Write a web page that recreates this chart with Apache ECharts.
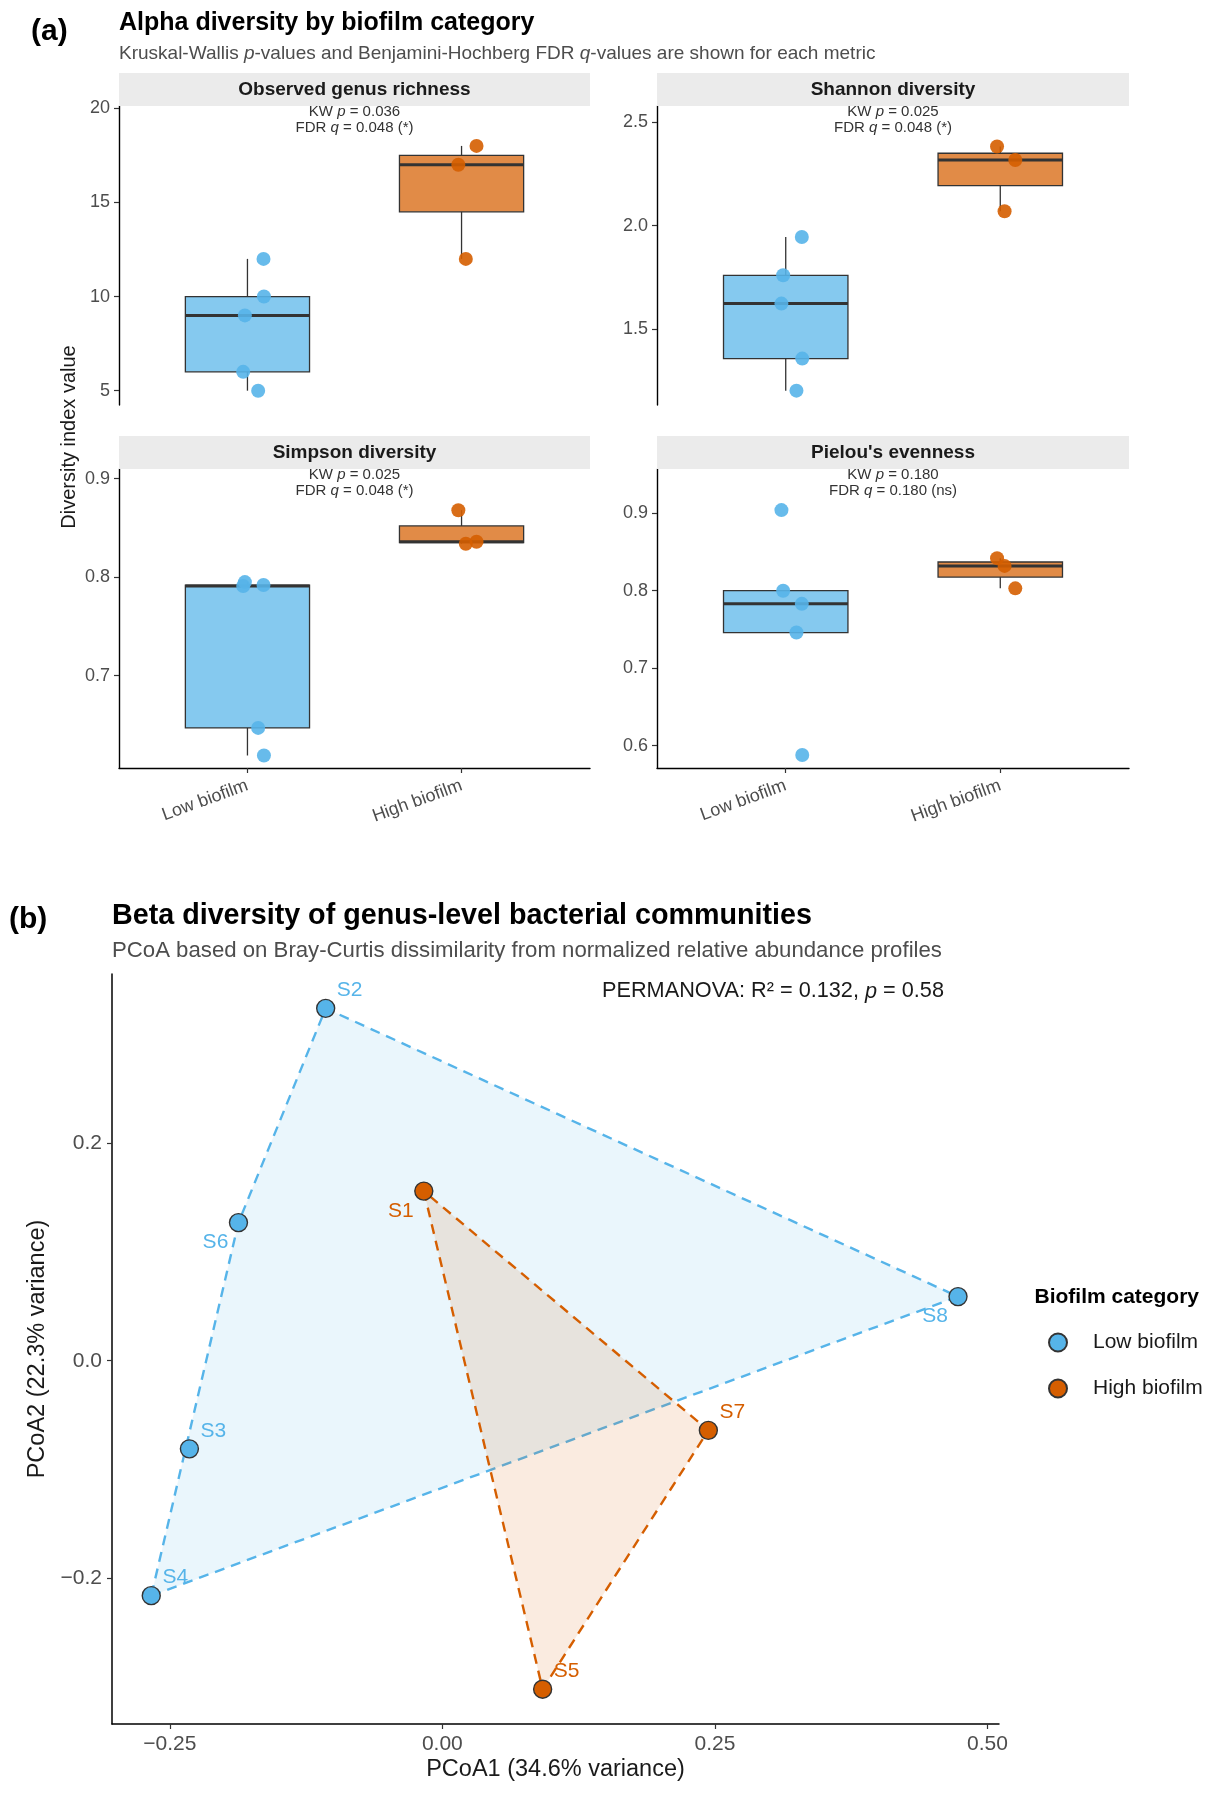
<!DOCTYPE html>
<html>
<head>
<meta charset="utf-8">
<script src="https://cdn.jsdelivr.net/npm/echarts@6/dist/echarts.min.js"></script>
<style>
html,body{margin:0;padding:0;background:#fff;}
#c{width:1211px;height:1793px;}
</style>
</head>
<body>
<div id="c"></div>
<script>
// ---------------- DATA ----------------
const groups = ['Low biofilm', 'High biofilm'];
const metrics = ['Observed genus richness', 'Shannon diversity', 'Simpson diversity', "Pielou's evenness"];
const kwP = ['0.036', '0.025', '0.025', '0.180'];
const fdrQ = ['0.048 (*)', '0.048 (*)', '0.048 (*)', '0.180 (ns)'];

// per-sample horizontal jitter (category units)
const lowJitter = [0.075, 0.077, -0.012, -0.02, 0.05];
const highJitter = [0.07, -0.015, 0.02];

const richnessLow = [12, 10, 9, 6, 5];
const richnessHigh = [18, 17, 12];
const shannonLow = [1.945, 1.357, 1.760, 1.623, 1.202];
const shannonHigh = [2.318, 2.383, 2.070];
const simpsonLow = [0.792, 0.619, 0.795, 0.791, 0.647];
const simpsonHigh = [0.836, 0.868, 0.834];
const pielouLow = [0.783, 0.588, 0.800, 0.904, 0.746];
const pielouHigh = [0.803, 0.842, 0.832];

const yTicksA = [[5, 10, 15, 20], [1.5, 2.0, 2.5], [0.7, 0.8, 0.9], [0.6, 0.7, 0.8, 0.9]];
const yDecimalsA = [0, 1, 1, 1];

// PCoA
const samples = ['S1', 'S2', 'S3', 'S4', 'S5', 'S6', 'S7', 'S8'];
const sampleGroup = ['High biofilm', 'Low biofilm', 'Low biofilm', 'Low biofilm', 'High biofilm', 'Low biofilm', 'High biofilm', 'Low biofilm'];
const pcoa1 = [-0.017, -0.107, -0.232, -0.267, 0.092, -0.187, 0.244, 0.473];
const pcoa2 = [0.156, 0.324, -0.081, -0.216, -0.302, 0.127, -0.064, 0.059];
const xTicksB = [-0.25, 0, 0.25, 0.5];
const yTicksB = [-0.2, 0, 0.2];

// ---------------- STYLE ----------------
const FONT = "'Liberation Sans', Arial, sans-serif";
const COL = {'Low biofilm': '#56B4E9', 'High biofilm': '#D55E00'};
const BOXFILL = {'Low biofilm': 'rgba(86,180,233,0.72)', 'High biofilm': 'rgba(213,94,0,0.72)'};
const HULLFILL = {'Low biofilm': 'rgba(86,180,233,0.12)', 'High biofilm': 'rgba(213,94,0,0.12)'};
const BOX_W = 0.58;
const gridsA = [
  {left: 119, top: 106, width: 471, height: 299},
  {left: 657, top: 106, width: 472, height: 299},
  {left: 119, top: 469, width: 471, height: 299},
  {left: 657, top: 469, width: 472, height: 299}
];
const yRangeA = [[4.24, 20.12], [1.1325, 2.579], [0.6063, 0.9098], [0.5712, 0.957]];
const gridB = {left: 112, top: 974, width: 887, height: 750};
const xRangeB = [-0.303, 0.5106];
const yRangeB = [-0.334, 0.3556];
const minus = s => s.replace('-', '\u2212');

// ---------------- HELPERS ----------------
function q7(s, p) {
  const h = (s.length - 1) * p, lo = Math.floor(h), hi = Math.min(lo + 1, s.length - 1);
  return s[lo] + (h - lo) * (s[hi] - s[lo]);
}
function boxStats(vals, pos) {
  const s = vals.slice().sort((a, b) => a - b);
  const q1 = q7(s, 0.25), md = q7(s, 0.5), q3 = q7(s, 0.75), iqr = q3 - q1;
  const lo = Math.min(...s.filter(v => v >= q1 - 1.5 * iqr));
  const hi = Math.max(...s.filter(v => v <= q3 + 1.5 * iqr));
  return [pos, q1, md, q3, lo, hi];
}
function hull(pts) {
  const p = pts.slice().sort((a, b) => a[0] - b[0] || a[1] - b[1]);
  const cr = (o, a, b) => (a[0] - o[0]) * (b[1] - o[1]) - (a[1] - o[1]) * (b[0] - o[0]);
  const lower = [], upper = [];
  for (const q of p) { while (lower.length >= 2 && cr(lower[lower.length - 2], lower[lower.length - 1], q) <= 0) lower.pop(); lower.push(q); }
  for (const q of p.slice().reverse()) { while (upper.length >= 2 && cr(upper[upper.length - 2], upper[upper.length - 1], q) <= 0) upper.pop(); upper.push(q); }
  upper.pop(); lower.pop();
  return lower.concat(upper);
}

const metricData = [
  [richnessLow, richnessHigh],
  [shannonLow, shannonHigh],
  [simpsonLow, simpsonHigh],
  [pielouLow, pielouHigh]
];
const jitters = [lowJitter, highJitter];

// ---------------- OPTION ----------------
const grid = [], xAxis = [], yAxis = [], series = [], graphic = [];

gridsA.forEach((g, i) => {
  grid.push(Object.assign({containLabel: false}, g));
  xAxis.push({
    gridIndex: i, type: 'value', min: 0.4, max: 2.6, show: i >= 2,
    splitLine: {show: false},
    axisLine: {show: true, onZero: false, lineStyle: {color: '#000', width: 1.4}},
    axisTick: {show: true, customValues: [1, 2], length: 5, lineStyle: {color: '#333', width: 1.2}},
    axisLabel: {customValues: [1, 2], formatter: v => groups[Math.round(v) - 1], rotate: 20, margin: 17,
      fontSize: 18, color: '#4d4d4d', fontFamily: FONT}
  });
  yAxis.push({
    gridIndex: i, type: 'value', min: yRangeA[i][0], max: yRangeA[i][1],
    splitLine: {show: false},
    axisLine: {show: true, onZero: false, lineStyle: {color: '#000', width: 1.4}},
    axisTick: {show: true, customValues: yTicksA[i], length: 5, lineStyle: {color: '#333', width: 1.2}},
    axisLabel: {customValues: yTicksA[i], formatter: v => v.toFixed(yDecimalsA[i]), margin: 9,
      fontSize: 18, color: '#4d4d4d', fontFamily: FONT}
  });
  // strip
  graphic.push({type: 'rect', shape: {x: g.left, y: g.top - 33, width: g.width, height: 33}, style: {fill: '#EBEBEB'}, z: 1});
  graphic.push({type: 'text', x: g.left + g.width / 2, y: g.top - 16.5, z: 2,
    style: {text: metrics[i], font: 'bold 19px ' + FONT, fill: '#1a1a1a', align: 'center', verticalAlign: 'middle'}});
  // KW annotation
  graphic.push({type: 'text', x: g.left + g.width / 2, y: g.top + 5.7, z: 5,
    style: {text: 'KW {i|p} = ' + kwP[i], fontSize: 15, fontFamily: FONT, fill: '#333', align: 'center', verticalAlign: 'middle',
      rich: {i: {fontStyle: 'italic', fontSize: 15, fontFamily: FONT, fill: '#333'}}}});
  graphic.push({type: 'text', x: g.left + g.width / 2, y: g.top + 21.7, z: 5,
    style: {text: 'FDR {i|q} = ' + fdrQ[i], fontSize: 15, fontFamily: FONT, fill: '#333', align: 'center', verticalAlign: 'middle',
      rich: {i: {fontStyle: 'italic', fontSize: 15, fontFamily: FONT, fill: '#333'}}}});

  // boxes
  groups.forEach((gr, gi) => {
    const st = boxStats(metricData[i][gi], gi + 1);
    series.push({
      type: 'custom', name: 'box-' + i + '-' + gi, xAxisIndex: i, yAxisIndex: i, z: 2,
      data: [st], encode: {x: 0, y: [1, 2, 3, 4, 5]},
      renderItem: (params, api) => {
        const x = api.value(0), q1 = api.value(1), md = api.value(2), q3 = api.value(3), lo = api.value(4), hi = api.value(5);
        const tl = api.coord([x - BOX_W / 2, q3]), br = api.coord([x + BOX_W / 2, q1]);
        const mL = api.coord([x - BOX_W / 2, md]), mR = api.coord([x + BOX_W / 2, md]);
        const wLo = api.coord([x, lo]), wQ1 = api.coord([x, q1]), wQ3 = api.coord([x, q3]), wHi = api.coord([x, hi]);
        const ls = {stroke: '#333', lineWidth: 1.3};
        return {type: 'group', children: [
          {type: 'line', shape: {x1: wLo[0], y1: wLo[1], x2: wQ1[0], y2: wQ1[1]}, style: ls},
          {type: 'line', shape: {x1: wQ3[0], y1: wQ3[1], x2: wHi[0], y2: wHi[1]}, style: ls},
          {type: 'rect', shape: {x: tl[0], y: tl[1], width: br[0] - tl[0], height: br[1] - tl[1]},
            style: {fill: BOXFILL[gr], stroke: '#333', lineWidth: 1.3}},
          {type: 'line', shape: {x1: mL[0], y1: mL[1], x2: mR[0], y2: mR[1]}, style: {stroke: '#333', lineWidth: 3}}
        ]};
      }
    });
    series.push({
      type: 'scatter', name: 'pts-' + i + '-' + gi, xAxisIndex: i, yAxisIndex: i, z: 4,
      symbol: 'circle', symbolSize: 14,
      itemStyle: {color: COL[gr], opacity: 0.9},
      data: metricData[i][gi].map((v, k) => [gi + 1 + jitters[gi][k], v])
    });
  });
});

// ---- panel b ----
grid.push(Object.assign({containLabel: false}, gridB));
xAxis.push({
  gridIndex: 4, type: 'value', min: xRangeB[0], max: xRangeB[1],
  name: 'PCoA1 (34.6% variance)', nameLocation: 'middle', nameGap: 34,
  nameTextStyle: {fontSize: 23.5, color: '#1a1a1a', fontFamily: FONT},
  splitLine: {show: false},
  axisLine: {show: true, onZero: false, lineStyle: {color: '#000', width: 1.5}},
  axisTick: {show: true, customValues: xTicksB, length: 5, lineStyle: {color: '#333', width: 1.2}},
  axisLabel: {customValues: xTicksB, formatter: v => minus(v.toFixed(2)), margin: 10, fontSize: 21, color: '#4d4d4d', fontFamily: FONT}
});
yAxis.push({
  gridIndex: 4, type: 'value', min: yRangeB[0], max: yRangeB[1],
  name: 'PCoA2 (22.3% variance)', nameLocation: 'middle', nameGap: 46,
  nameTextStyle: {fontSize: 23.5, color: '#1a1a1a', fontFamily: FONT},
  splitLine: {show: false},
  axisLine: {show: true, onZero: false, lineStyle: {color: '#000', width: 1.5}},
  axisTick: {show: true, customValues: yTicksB, length: 5, lineStyle: {color: '#333', width: 1.2}},
  axisLabel: {customValues: yTicksB, formatter: v => minus(v.toFixed(1)), margin: 10, fontSize: 21, color: '#4d4d4d', fontFamily: FONT}
});

const labelOffsets = {ur: [24, -18], ll: [-23, 20]};
const labelSide = ['ll', 'ur', 'ur', 'ur', 'ur', 'll', 'ur', 'll'];

groups.forEach(gr => {
  const pts = samples.map((s, k) => [pcoa1[k], pcoa2[k], sampleGroup[k]]).filter(p => p[2] === gr).map(p => [p[0], p[1]]);
  const h = hull(pts);
  series.push({
    type: 'custom', name: 'hull-' + gr, xAxisIndex: 4, yAxisIndex: 4, z: 1, silent: true,
    data: h, encode: {x: 0, y: 1},
    renderItem: (params, api) => {
      if (params.dataIndexInside !== 0) return null;
      const poly = h.map(p => api.coord(p));
      return {type: 'polygon', shape: {points: poly},
        style: {fill: HULLFILL[gr], stroke: COL[gr], lineWidth: 2.4, lineDash: [10, 7]}};
    }
  });
});
groups.forEach(gr => {
  series.push({
    type: 'scatter', name: gr, xAxisIndex: 4, yAxisIndex: 4, z: 5,
    symbol: 'circle', symbolSize: 18,
    itemStyle: {color: COL[gr], borderColor: '#333', borderWidth: 1.4, opacity: 1},
    label: {show: true, position: 'inside', formatter: '{b}', fontSize: 21, fontFamily: FONT, color: COL[gr]},
    data: samples.map((s, k) => ({name: s, value: [pcoa1[k], pcoa2[k]], grp: sampleGroup[k], label: {offset: labelOffsets[labelSide[k]]}}))
      .filter(d => d.grp === gr).map(d => ({name: d.name, value: d.value, label: d.label}))
  });
});

// texts
graphic.push(
  {type: 'text', x: 31, y: 31.5, style: {text: '(a)', font: 'bold 30px ' + FONT, fill: '#000', align: 'left', verticalAlign: 'middle'}},
  {type: 'text', x: 119, y: 23.5, style: {text: 'Alpha diversity by biofilm category', font: 'bold 25px ' + FONT, fill: '#000', align: 'left', verticalAlign: 'middle'}},
  {type: 'text', x: 119, y: 53.5, style: {text: 'Kruskal-Wallis {i|p}-values and Benjamini-Hochberg FDR {i|q}-values are shown for each metric',
    fontSize: 19, fontFamily: FONT, fill: '#4d4d4d', align: 'left', verticalAlign: 'middle',
    rich: {i: {fontStyle: 'italic', fontSize: 19, fontFamily: FONT, fill: '#4d4d4d'}}}},
  {type: 'text', x: 69.5, y: 437, rotation: Math.PI / 2, style: {text: 'Diversity index value', fontSize: 20, fontFamily: FONT, fill: '#1a1a1a', align: 'center', verticalAlign: 'middle'}},
  {type: 'text', x: 9, y: 920, style: {text: '(b)', font: 'bold 30px ' + FONT, fill: '#000', align: 'left', verticalAlign: 'middle'}},
  {type: 'text', x: 112, y: 916.5, style: {text: 'Beta diversity of genus-level bacterial communities', font: 'bold 28.7px ' + FONT, fill: '#000', align: 'left', verticalAlign: 'middle'}},
  {type: 'text', x: 112, y: 951, style: {text: 'PCoA based on Bray-Curtis dissimilarity from normalized relative abundance profiles', fontSize: 22.2, fontFamily: FONT, fill: '#4d4d4d', align: 'left', verticalAlign: 'middle'}},
  {type: 'text', x: 773, y: 991.5, z: 10, style: {text: 'PERMANOVA: R\u00B2 = 0.132, {i|p} = 0.58', fontSize: 21.7, fontFamily: FONT, fill: '#1a1a1a', align: 'center', verticalAlign: 'middle',
    rich: {i: {fontStyle: 'italic', fontSize: 21.7, fontFamily: FONT, fill: '#1a1a1a'}}}},
  {type: 'text', x: 1034.5, y: 1297, style: {text: 'Biofilm category', font: 'bold 21px ' + FONT, fill: '#000', align: 'left', verticalAlign: 'middle'}}
);

const option = {
  animation: false,
  backgroundColor: '#fff',
  textStyle: {fontFamily: FONT},
  grid, xAxis, yAxis, series, graphic,
  legend: {
    data: groups, orient: 'vertical', left: 1043, top: 1327, itemWidth: 18, itemHeight: 18, itemGap: 25,
    icon: 'circle', selectedMode: false,
    textStyle: {fontSize: 21, color: '#1a1a1a', fontFamily: FONT, padding: [0, 0, 0, 21]}
  }
};

const chart = echarts.init(document.getElementById('c'), null, {renderer: 'canvas'});
chart.setOption(option);
</script>
</body>
</html>
